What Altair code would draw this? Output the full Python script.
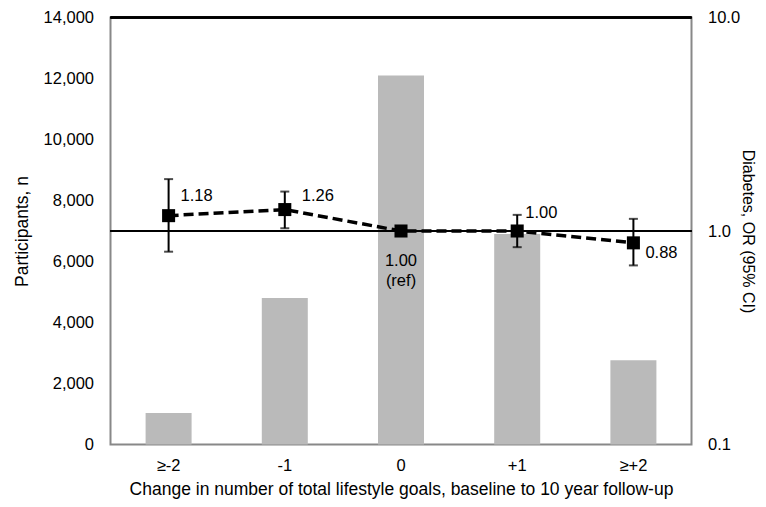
import altair as alt
import pandas as pd

categories = ["≥-2", "-1", "0", "+1", "≥+2"]
participants = [1030, 4800, 12100, 6900, 2760]
odds_ratio = [1.18, 1.26, 1.00, 1.00, 0.88]
ci_low = [0.80, 1.03, None, 0.84, 0.69]
ci_high = [1.75, 1.53, None, 1.19, 1.14]
point_labels = ["1.18", "1.26", "1.00\n(ref)", "1.00", "0.88"]
left_ticks = [0, 2000, 4000, 6000, 8000, 10000, 12000, 14000]
right_ticks = [0.1, 1, 10]

df = pd.DataFrame({
    "cat": categories,
    "idx": list(range(len(categories))),
    "n": participants,
    "or": odds_ratio,
    "lo": ci_low,
    "hi": ci_high,
    "label": point_labels,
})

FONT = "Liberation Sans"
LFS = 16.5
TFS = 17.5

x_enc = alt.X(
    "cat:N", sort=categories,
    scale=alt.Scale(paddingInner=0, paddingOuter=0),
    axis=alt.Axis(
        title="Change in number of total lifestyle goals, baseline to 10 year follow-up",
        labelAngle=0, ticks=False, domain=False, grid=False,
        labelPadding=13, titleY=45, titleBaseline="middle",
    ),
)

left_axis = alt.Axis(
    values=left_ticks, format=",.0f", ticks=False, domain=False,
    grid=False, labelPadding=17, title="Participants, n", titleAngle=270,
    titleX=-88, titleY=213.5, titleAlign="center", titleBaseline="middle",
)
left_scale = alt.Scale(domain=[0, 14000], nice=False)

or_scale = alt.Scale(type="log", domain=[0.1, 10], nice=False)
or_axis = alt.Axis(
    orient="right", values=right_ticks, format=".1f", ticks=False, domain=False,
    grid=False, labelPadding=16, title="Diabetes, OR (95% CI)", titleAngle=90,
    titleX=56, titleY=213.5, titleAlign="center", titleBaseline="middle",
    titleFontSize=16,
)

bars = alt.Chart(df).mark_bar(color="#bababa", size=46).encode(
    x=x_enc, y=alt.Y("n:Q", scale=left_scale, axis=left_axis)
)
top_border = alt.Chart(df).mark_rule(color="black", strokeWidth=2).encode(
    y=alt.value(0)
)
left_group = alt.layer(bars, top_border)

ref_line = alt.Chart(df).mark_rule(color="black", strokeWidth=2).encode(
    y=alt.YDatum(1, type="quantitative", scale=or_scale, axis=or_axis)
)
line = alt.Chart(df).mark_line(color="black", strokeWidth=3.5, strokeDash=[10, 5]).encode(
    x=x_enc, y=alt.Y("or:Q", scale=or_scale, axis=or_axis), order=alt.Order("idx:Q")
)
err = alt.Chart(df).mark_rule(color="black", strokeWidth=2).encode(
    x=x_enc, y=alt.Y("lo:Q", scale=or_scale, axis=or_axis), y2="hi:Q"
)
cap_lo = alt.Chart(df).mark_tick(color="black", thickness=2, size=9).encode(
    x=x_enc, y=alt.Y("lo:Q", scale=or_scale, axis=or_axis)
)
cap_hi = alt.Chart(df).mark_tick(color="black", thickness=2, size=9).encode(
    x=x_enc, y=alt.Y("hi:Q", scale=or_scale, axis=or_axis)
)
pts = alt.Chart(df).mark_square(color="black", size=170, opacity=1).encode(
    x=x_enc, y=alt.Y("or:Q", scale=or_scale, axis=or_axis)
)

label_style = {
    "≥-2": dict(align="left", dx=12, dy=-20),
    "-1": dict(align="left", dx=17, dy=-14),
    "0": dict(align="center", dx=0, dy=30),
    "+1": dict(align="left", dx=8, dy=-18),
    "≥+2": dict(align="left", dx=12, dy=10),
}
texts = []
for c in categories:
    st = label_style[c]
    texts.append(
        alt.Chart(df).transform_filter(alt.datum.cat == c).mark_text(
            fontSize=16.5, font=FONT, color="black", baseline="middle",
            lineBreak="\n", lineHeight=20, **st
        ).encode(x=x_enc, y=alt.Y("or:Q", scale=or_scale, axis=or_axis), text="label:N")
    )

right_group = alt.layer(ref_line, line, err, cap_lo, cap_hi, pts, *texts)

chart = alt.layer(left_group, right_group).resolve_scale(y="independent").properties(
    width=581, height=427,
    autosize=alt.AutoSizeParams(type="none"),
    padding={"left": 102.5, "top": 9.5, "right": 66.5, "bottom": 54.5},
).configure_view(stroke="#888888", strokeWidth=2).configure_axis(
    labelFont=FONT, titleFont=FONT, labelFontSize=LFS, titleFontSize=TFS,
    labelColor="black", titleColor="black", titleFontWeight="normal",
)

chart.save("out.html", embed_options={"renderer": "svg", "actions": False})
